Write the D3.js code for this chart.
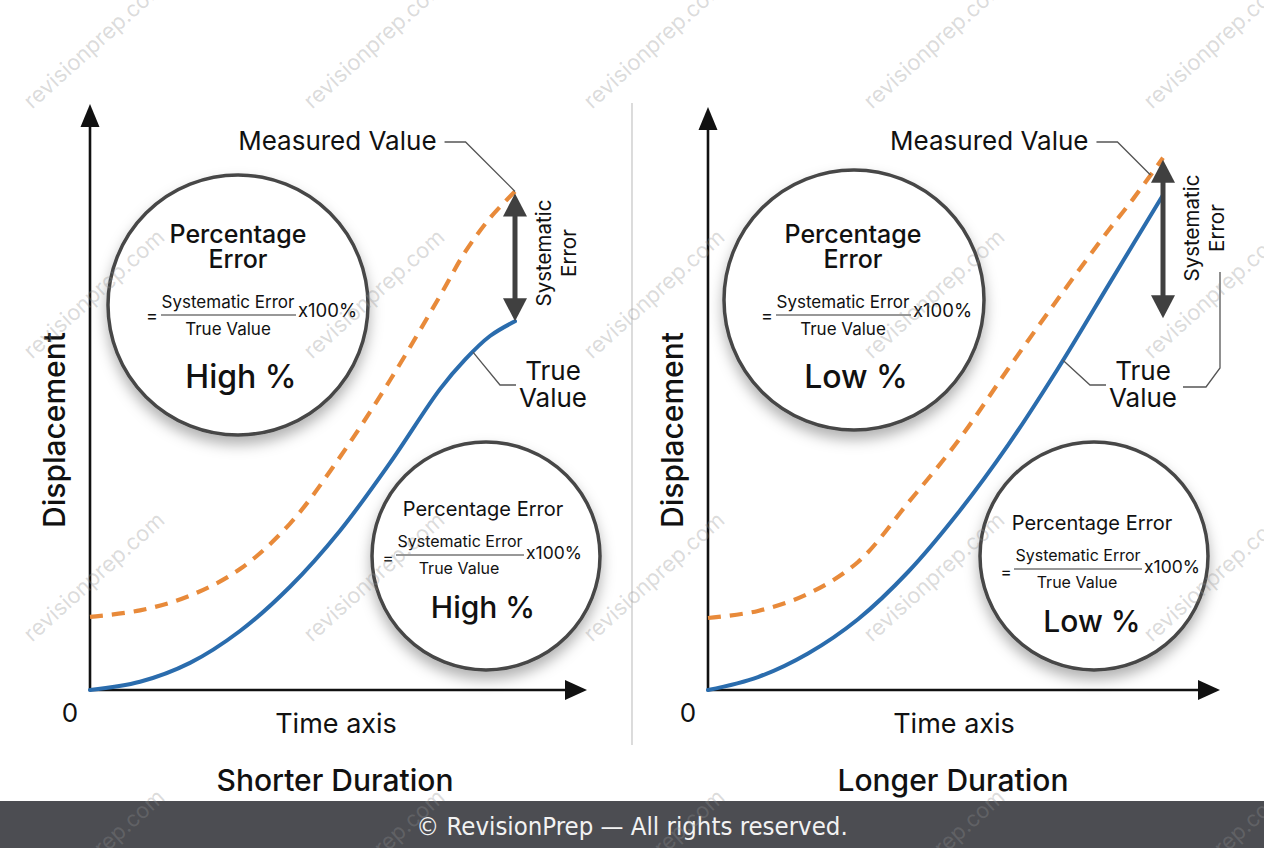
<!DOCTYPE html>
<html>
<head>
<meta charset="utf-8">
<script src="https://cdn.jsdelivr.net/npm/d3@7"></script>
<style>
  body { margin: 0; background: #fff; }
  svg { display: block; font-family: Inter, Roboto, "Noto Sans", sans-serif; }
  .footer-text { font-family: "DejaVu Sans", sans-serif; font-stretch: condensed; }
</style>
</head>
<body>
<svg id="chart" width="1264" height="848"></svg>
<script>
// values (time and displacement in arbitrary units, 0-10)
const panelTitles = ["Shorter Duration", "Longer Duration"];
const verdicts = ["High %", "Low %"];

const timeShort = [0, 1, 2, 3, 4, 5, 6, 7, 7.5, 8, 8.5];
const trueShort = [0, 0.14, 0.46, 1.0, 1.75, 2.7, 3.85, 5.1, 5.6, 6.0, 6.25];
const measuredShort = [1.24, 1.35, 1.6, 2.05, 2.82, 3.95, 5.25, 6.68, 7.42, 8.0, 8.45];

const timeLong = [0, 1, 2, 3, 4, 5, 6, 7, 8, 8.5, 9.1];
const trueLong = [0, 0.22, 0.62, 1.2, 2.0, 3.0, 4.15, 5.45, 6.85, 7.55, 8.39];
const measuredLong = [1.22, 1.34, 1.63, 2.17, 3.17, 4.22, 5.44, 6.63, 7.78, 8.32, 9.02];

// lower end of the systematic error arrow
const errorArrowLow = [6.25, 6.3];

// where the leader lines touch the curves (time)
const measuredLabelAt = [8.5, 8.85];
const trueLabelAt = [7.66, 7.1];

const svg = d3.select("#chart");
const INK = "#111";
const BLUE = "#2a6cad";
const ORANGE = "#e88a3a";

const defs = svg.append("defs");
defs.append("filter")
  .attr("id", "shadow")
  .attr("x", "-30%").attr("y", "-30%")
  .attr("width", "160%").attr("height", "170%")
  .append("feDropShadow")
  .attr("dx", 0).attr("dy", 8)
  .attr("stdDeviation", 7)
  .attr("flood-color", "#000")
  .attr("flood-opacity", 0.3);

// panel layout (pixels)
const layout = [
  {
    ox: 90, xTip: 587, yTip: 104,
    big: { cx: 238, cy: 305, r: 130, tx: 238, ty: 305 },
    small: { cx: 486, cy: 556, r: 114, tx: 486, ty: 556, fx: 486 },
    errLabelY: 253, bracket: false
  },
  {
    ox: 708, xTip: 1220, yTip: 107,
    big: { cx: 854, cy: 300, r: 130, tx: 853, ty: 305 },
    small: { cx: 1094, cy: 556, r: 114, tx: 1095, ty: 570, fx: 1104 },
    errLabelY: 228, bracket: true
  }
];

const series = [
  { time: timeShort, trueV: trueShort, measured: measuredShort },
  { time: timeLong, trueV: trueLong, measured: measuredLong }
];

// thin divider between the two panels
svg.append("line")
  .attr("x1", 632).attr("x2", 632)
  .attr("y1", 103).attr("y2", 745)
  .attr("stroke", "#c4c4c4").attr("stroke-width", 1.2);

function addText(g, str, x, y, size, opts = {}) {
  return g.append("text")
    .attr("x", x).attr("y", y)
    .attr("text-anchor", opts.anchor || "middle")
    .attr("font-size", size)
    .attr("font-weight", opts.weight || 400)
    .attr("fill", INK)
    .text(str);
}

function drawPanel(i) {
  const L = layout[i];
  const S = series[i];
  const g = svg.append("g").attr("class", "panel");

  const x = d3.scaleLinear().domain([0, 10]).range([L.ox, L.ox + 500]);
  const y = d3.scaleLinear().domain([0, 10]).range([690, 100]);
  const measuredAt = d3.scaleLinear().domain(S.time).range(S.measured);
  const trueAt = d3.scaleLinear().domain(S.time).range(S.trueV);

  // axes with arrow heads
  g.append("line")
    .attr("x1", x(0)).attr("y1", y(0))
    .attr("x2", L.xTip - 16).attr("y2", y(0))
    .attr("stroke", INK).attr("stroke-width", 2.6);
  g.append("line")
    .attr("x1", x(0)).attr("y1", y(0) + 1.3)
    .attr("x2", x(0)).attr("y2", L.yTip + 16)
    .attr("stroke", INK).attr("stroke-width", 2.6);
  g.append("path")
    .attr("d", `M${L.xTip},${y(0)} L${L.xTip - 22},${y(0) - 10} L${L.xTip - 22},${y(0) + 10} Z`)
    .attr("fill", INK);
  g.append("path")
    .attr("d", `M${x(0)},${L.yTip} L${x(0) - 9.5},${L.yTip + 23} L${x(0) + 9.5},${L.yTip + 23} Z`)
    .attr("fill", INK);

  addText(g, "0", x(0) - 20, 722, 26);
  addText(g, "Time axis", L.ox + 246, 733, 27);
  addText(g, panelTitles[i], L.ox + 245, 791, 30, { weight: 500 });
  g.append("text")
    .attr("transform", `translate(${L.ox - 25},430) rotate(-90)`)
    .attr("text-anchor", "middle")
    .attr("font-size", 30)
    .attr("font-weight", 500)
    .attr("fill", INK)
    .text("Displacement");

  // curves
  const pts = (vals) => S.time.map((t, k) => [t, vals[k]]);
  const line = d3.line().x(d => x(d[0])).y(d => y(d[1])).curve(d3.curveCatmullRom.alpha(0.5));

  g.append("path")
    .attr("d", line(pts(S.measured)))
    .attr("fill", "none")
    .attr("stroke", ORANGE)
    .attr("stroke-width", 4.2)
    .attr("stroke-dasharray", "13,9");
  g.append("path")
    .attr("d", line(pts(S.trueV)))
    .attr("fill", "none")
    .attr("stroke", BLUE)
    .attr("stroke-width", 4)
    .attr("stroke-linecap", "round");

  // systematic error double arrow
  const tEnd = S.time[S.time.length - 1];
  const ax = x(tEnd);
  const aTop = y(S.measured[S.measured.length - 1]) + 2;
  const aBot = y(errorArrowLow[i]);
  const ARROW = "#404040";
  g.append("line")
    .attr("x1", ax).attr("x2", ax)
    .attr("y1", aTop + 18).attr("y2", aBot - 18)
    .attr("stroke", ARROW).attr("stroke-width", 5);
  g.append("path")
    .attr("d", `M${ax},${aTop} L${ax - 12},${aTop + 23} L${ax + 12},${aTop + 23} Z`)
    .attr("fill", ARROW);
  g.append("path")
    .attr("d", `M${ax},${aBot} L${ax - 12},${aBot - 23} L${ax + 12},${aBot - 23} Z`)
    .attr("fill", ARROW);
  [["Systematic", 36], ["Error", 61]].forEach(([s, dx]) => {
    g.append("text")
      .attr("transform", `translate(${ax + dx},${L.errLabelY}) rotate(-90)`)
      .attr("text-anchor", "middle")
      .attr("font-size", 20.5)
      .attr("fill", INK)
      .text(s);
  });

  // measured value label + leader
  const mx = x(measuredLabelAt[i]);
  const my = y(measuredAt(measuredLabelAt[i]));
  const elbowX = mx - (my - 142);
  g.append("path")
    .attr("d", `M${mx},${my} L${elbowX},142 L${elbowX - 21},142`)
    .attr("fill", "none").attr("stroke", "#555").attr("stroke-width", 1.3);
  addText(g, "Measured Value", elbowX - 29, 150, 26, { anchor: "end" });

  // true value label + leader
  const tx = x(trueLabelAt[i]);
  const ty = y(trueAt(trueLabelAt[i]));
  g.append("path")
    .attr("d", `M${tx},${ty} L${tx + 27},385 L${tx + 43},385`)
    .attr("fill", "none").attr("stroke", "#555").attr("stroke-width", 1.3);
  addText(g, "True", tx + 80, 380, 26);
  addText(g, "Value", tx + 80, 407, 26);
  if (L.bracket) {
    g.append("path")
      .attr("d", `M${ax + 20},387 L${ax + 43},387 L${ax + 57},368 L${ax + 57},272`)
      .attr("fill", "none").attr("stroke", "#555").attr("stroke-width", 1.3);
  }

  // big circle
  const B = L.big;
  g.append("circle")
    .attr("cx", B.cx).attr("cy", B.cy).attr("r", B.r)
    .attr("fill", "#fff").attr("stroke", "#474747").attr("stroke-width", 3.5)
    .attr("filter", "url(#shadow)");
  addText(g, "Percentage", B.tx, B.ty - 62, 25, { weight: 500 });
  addText(g, "Error", B.tx, B.ty - 37, 25, { weight: 500 });
  addText(g, "=", B.tx - 86, B.ty + 17, 18);
  addText(g, "Systematic Error", B.tx - 10, B.ty + 3, 17);
  g.append("line")
    .attr("x1", B.tx - 77).attr("x2", B.tx + 58)
    .attr("y1", B.ty + 10).attr("y2", B.ty + 10)
    .attr("stroke", "#333").attr("stroke-width", 1.2);
  addText(g, "True Value", B.tx - 10, B.ty + 30, 17);
  addText(g, "x100%", B.tx + 60, B.ty + 12, 18.5, { anchor: "start" });
  addText(g, verdicts[i], B.tx + 3, B.ty + 83, 32, { weight: 500 });

  // small circle
  const C = L.small;
  g.append("circle")
    .attr("cx", C.cx).attr("cy", C.cy).attr("r", C.r)
    .attr("fill", "#fff").attr("stroke", "#474747").attr("stroke-width", 3.5)
    .attr("filter", "url(#shadow)");
  addText(g, "Percentage Error", C.tx - 3, C.ty - 40, 20);
  addText(g, "=", C.fx - 98, C.ty + 8, 17);
  addText(g, "Systematic Error", C.fx - 26, C.ty - 9, 16);
  g.append("line")
    .attr("x1", C.fx - 90).attr("x2", C.fx + 38)
    .attr("y1", C.ty - 1).attr("y2", C.ty - 1)
    .attr("stroke", "#333").attr("stroke-width", 1.1);
  addText(g, "True Value", C.fx - 27, C.ty + 18, 16);
  addText(g, "x100%", C.fx + 40, C.ty + 3, 17.5, { anchor: "start" });
  addText(g, verdicts[i], C.tx - 3, C.ty + 62, 30, { weight: 500 });
}

drawPanel(0);
drawPanel(1);

// footer
svg.append("rect")
  .attr("x", 0).attr("y", 801)
  .attr("width", 1264).attr("height", 47)
  .attr("fill", "#4c4d52");
svg.append("text")
  .attr("class", "footer-text")
  .attr("x", 632).attr("y", 835)
  .attr("text-anchor", "middle")
  .attr("font-size", 25.5)
  .attr("fill", "#f2f2f2")
  .text("© RevisionPrep — All rights reserved.");

// watermark grid
const wmCols = d3.range(5).map(k => 95 + k * 280);
const wmRows = [45, 295, 578, 855];
const wm = svg.append("g").attr("pointer-events", "none");
wmRows.forEach(ry => {
  wmCols.forEach(cx => {
    wm.append("text")
      .attr("transform", `translate(${cx},${ry}) rotate(-42)`)
      .attr("text-anchor", "middle")
      .attr("dominant-baseline", "middle")
      .attr("font-size", 22)
      .attr("fill", "#8f8f8f")
      .attr("fill-opacity", 0.33)
      .text("revisionprep.com");
  });
});
</script>
</body>
</html>
